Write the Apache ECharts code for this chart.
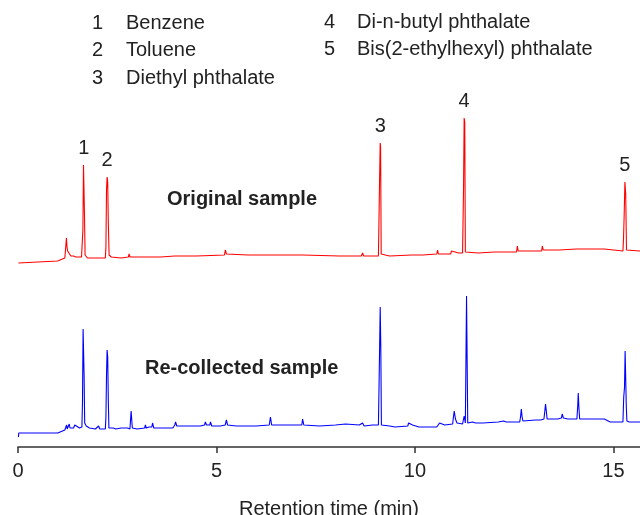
<!DOCTYPE html>
<html>
<head>
<meta charset="utf-8">
<script src="https://cdn.jsdelivr.net/npm/echarts@6/dist/echarts.min.js"></script>
<style>
html,body{margin:0;padding:0;background:#fff;}
#main{width:640px;height:515px;}
</style>
</head>
<body>
<div id="main"></div>
<script>
// retention time (min), detector signal (offset traces)
var redTrace = [
	[0.01,184],[0.02,186],[1.0,186],[1.05,187],[1.12,188],[1.18,189],[1.205,190],[1.22,209],[1.235,200],[1.25,196],
	[1.28,194],[1.30,195],[1.33,191],[1.40,191],[1.43,193],[1.46,190],[1.60,190],[1.62,192],[1.635,217],[1.65,282],
	[1.66,282],[1.675,232],[1.69,192],[1.75,189],[2.0,189],[2.2,189],[2.215,200],[2.23,257],[2.245,270],[2.26,265],
	[2.275,225],[2.295,192],[2.35,190],[2.6,189],[2.62,191],[2.64,189],[2.78,190],[2.80,193],[2.82,190],[2.85,192],
	[2.87,190],[3.19,190],[3.21,192],[3.23,190],[3.37,190],[3.39,192],[3.41,190],[3.6,190],[3.95,191],[3.97,193],
	[3.99,191],[4.5,191],[4.52,192],[5.2,192],[5.225,197],[5.25,193],[5.3,192],[5.8,192],[6.33,192],[6.36,194],
	[6.39,192],[7.17,192],[7.19,194],[7.21,192],[8.1,191],[8.65,191],[8.68,194],[8.71,191],[9.08,191],[9.095,229],
	[9.11,269],[9.125,304],[9.135,300],[9.15,193],[9.36,191],[9.38,193],[9.40,191],[9.92,192],[9.94,194],[9.96,192],
	[10.2,192],[10.55,193],[10.57,197],[10.59,193],[10.90,193],[10.92,196],[10.94,194],[11.1,194],[11.12,195],[11.2,194],
	[11.225,260],[11.24,329],[11.255,325],[11.27,195],[11.6,194],[12.0,195],[12.56,195],[12.58,201],[12.6,196],[13.19,196],
	[13.21,201],[13.23,197],[13.64,197],[13.66,199],[13.68,198],[14.07,198],[14.09,199],[14.11,198],[14.77,198],[14.8,196],
	[15.24,196],[15.255,209],[15.27,230],[15.29,265],[15.31,253],[15.33,197],[15.67,196]
];
var blueTrace = [
	[0.01,10],[0.02,14],[1.0,14],[1.05,15],[1.12,16],[1.18,17],[1.21,18],[1.225,22],[1.24,18],[1.27,20],
	[1.29,23],[1.31,19],[1.36,20],[1.40,19],[1.43,22],[1.45,24],[1.48,20],[1.55,19],[1.61,20],[1.625,45],
	[1.64,118],[1.655,118],[1.665,72],[1.68,24],[1.72,21],[1.8,19],[1.95,18],[2.0,19],[2.03,21],[2.06,18],
	[2.2,18],[2.215,30],[2.23,72],[2.245,97],[2.26,90],[2.275,47],[2.29,19],[2.33,18],[2.4,19],[2.43,21],
	[2.46,18],[2.6,19],[2.62,18],[2.76,19],[2.79,20],[2.82,18],[2.85,36],[2.865,36],[2.88,19],[3.0,18],
	[3.05,19],[3.19,19],[3.21,22],[3.23,19],[3.3,20],[3.37,20],[3.39,24],[3.42,19],[3.6,19],[3.9,19],
	[3.95,22],[3.97,25],[4.0,21],[4.05,20],[4.15,21],[4.25,21],[4.27,23],[4.3,21],[4.45,21],[4.47,23],
	[4.5,21],[4.6,21],[4.7,22],[4.72,25],[4.75,22],[4.83,22],[4.85,25],[4.88,21],[5.1,21],[5.22,22],
	[5.25,27],[5.28,22],[5.5,21],[6.0,21],[6.33,22],[6.36,30],[6.39,22],[6.6,22],[7.15,22],[7.17,28],
	[7.2,22],[7.6,21],[7.62,22],[8.0,22],[8.02,23],[8.25,23],[8.27,22],[8.6,22],[8.68,24],[8.72,21],
	[8.93,22],[8.95,23],[9.08,22],[9.095,59],[9.11,99],[9.125,140],[9.14,100],[9.155,22],[9.36,21],[9.38,23],
	[9.4,21],[9.5,20],[9.82,21],[9.84,24],[9.86,22],[9.94,22],[9.96,24],[9.98,21],[10.1,20],[10.55,20],
	[10.6,21],[10.62,24],[10.65,22],[10.75,22],[10.77,23],[10.8,22],[10.95,23],[10.97,30],[10.99,36],[11.02,28],
	[11.06,24],[11.2,23],[11.24,31],[11.27,24],[11.285,85],[11.3,151],[11.315,150],[11.33,24],[11.45,25],[11.5,27],
	[11.53,24],[11.71,24],[11.73,25],[11.75,24],[12.1,25],[12.15,27],[12.23,26],[12.3,25],[12.64,25],[12.66,30],
	[12.68,38],[12.7,30],[12.72,26],[13.04,27],[13.06,28],[13.1,27],[13.17,27],[13.19,28],[13.25,28],[13.27,35],
	[13.29,43],[13.31,36],[13.33,28],[13.6,28],[13.69,29],[13.71,33],[13.74,29],[13.85,28],[14.08,28],[14.1,40],
	[14.115,54],[14.13,40],[14.15,28],[14.77,28],[14.8,27],[14.92,25],[15.24,25],[15.26,50],[15.28,60],[15.295,96],
	[15.31,95],[15.325,40],[15.34,26],[15.4,25],[15.67,25]
];
var peakNames = ['1','2','3','4','5'];
var peakCoords = [[1.655,282],[2.245,270],[9.125,304],[11.24,329],[15.29,265]];
var compoundNames = ['Benzene','Toluene','Diethyl phthalate','Di-n-butyl phthalate','Bis(2-ethylhexyl) phthalate'];
var xTicks = [0,5,10,15];

var FONT = 'Liberation Sans';
var myChart = echarts.init(document.getElementById('main'));

var legendGraphics = [];
for (var i = 0; i < compoundNames.length; i++) {
	var col = i < 3 ? 0 : 1;
	var row = i < 3 ? i : i - 3;
	var numX = col == 0 ? 98 : 330;
	var nameX = col == 0 ? 126 : 357;
	var rowY = (col == 0 ? 23 : 22) + row * 27.5;
	legendGraphics.push({
		type:'text', left:numX - 6, top:rowY - 10,
		style:{text:peakNames[i], font:'20px "' + FONT + '"', fill:'#222'}
	});
	legendGraphics.push({
		type:'text', left:nameX, top:rowY - 10,
		style:{text:compoundNames[i], font:'20px "' + FONT + '"', fill:'#222'}
	});
}
legendGraphics.push({
	type:'text', left:167, top:189,
	style:{text:'Original sample', font:'bold 20px "' + FONT + '"', fill:'#222'}
});
legendGraphics.push({
	type:'text', left:145, top:358,
	style:{text:'Re-collected sample', font:'bold 20px "' + FONT + '"', fill:'#222'}
});

var option = {
	animation:false,
	backgroundColor:'#fff',
	textStyle:{fontFamily:FONT},
	grid:{left:18, right:0, top:97, bottom:68, containLabel:false, outerBoundsMode:'none'},
	xAxis:{
		type:'value',
		min:0,
		max:15.67,
		interval:5,
		name:'Retention time (min)',
		nameLocation:'middle',
		nameGap:52,
		nameTextStyle:{fontSize:20, color:'#222', fontFamily:FONT},
		axisLine:{lineStyle:{color:'#333', width:1.5}},
		axisTick:{length:6, lineStyle:{color:'#333', width:1.5}},
		axisLabel:{
			fontSize:20, color:'#222', margin:14, showMaxLabel:false,
			formatter:function (v) { return xTicks.indexOf(v) >= 0 ? String(v) : ''; }
		},
		splitLine:{show:false}
	},
	yAxis:{type:'value', min:0, max:350, show:false},
	series:[{
		name:'Original sample',
		type:'line',
		data:redTrace,
		symbol:'none',
		lineStyle:{color:'#ff0000', width:1.1},
		markPoint:{
			symbol:'rect',
			symbolSize:[1,1],
			itemStyle:{color:'rgba(0,0,0,0)'},
			label:{
				show:true, position:'top', distance:6,
				fontSize:20, color:'#222', fontFamily:FONT,
				formatter:function (p) { return p.name; }
			},
			data:peakCoords.map(function (c, k) { return {name:peakNames[k], coord:c}; })
		}
	},{
		name:'Re-collected sample',
		type:'line',
		data:blueTrace,
		symbol:'none',
		lineStyle:{color:'#0000ff', width:1.1}
	}],
	graphic:legendGraphics
};
myChart.setOption(option, true);
</script>
</body>
</html>
